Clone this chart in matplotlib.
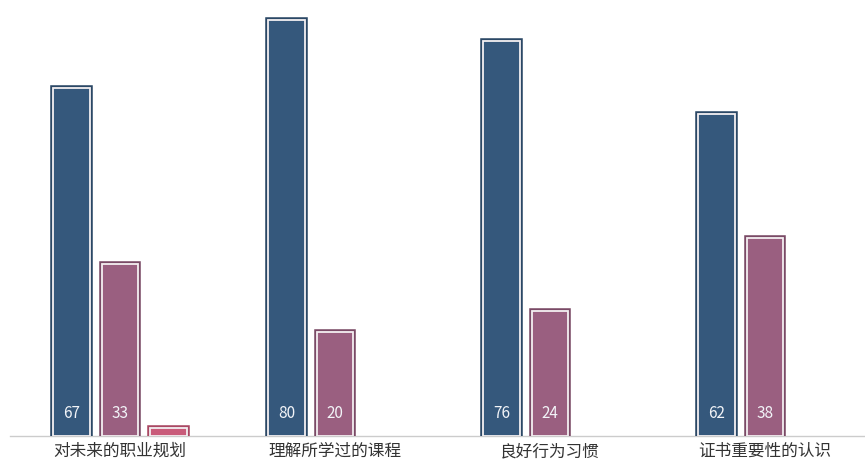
import matplotlib.pyplot as plt
import matplotlib.patheffects as pe
import numpy as np

plt.rcParams['font.family'] = ['Noto Sans CJK SC', 'DejaVu Sans']

categories = ["对未来的职业规划", "理解所学过的课程", "良好行为习惯", "证书重要性的认识"]
series_a = [67, 80, 76, 62]
series_b = [33, 20, 24, 38]
series_c = [1.5, 0, 0, 0]

fills = ["#35587c", "#9a5f80", "#c95b7a"]
edges = ["#2b4866", "#7a4a66", "#a94863"]

W, H = 865, 465
fig = plt.figure(figsize=(W / 100, H / 100), dpi=100)
# axes spans from x=10px to the right edge, baseline 29px above the bottom
ax = fig.add_axes([10 / W, 29 / H, 855 / W, 436 / H])

x = np.arange(len(categories))
width = 0.172
offset = 0.226

for i, (vals, fc, ec) in enumerate(zip([series_a, series_b, series_c], fills, edges)):
    pos = x + (i - 1) * offset
    for xp, v in zip(pos, vals):
        if v <= 0:
            continue
        b = ax.bar(xp, v, width, color=fc, edgecolor="#f4f0f2", linewidth=1.3, zorder=3)
        b[0].set_path_effects([pe.Stroke(linewidth=4, foreground=ec), pe.Normal()])
        if i < 2:
            ax.text(xp, 4.4, f"{v:g}", ha="center", va="center", color="#f2f4f8",
                    fontsize=11, zorder=4)

# unit = 215px horizontally, category centres at 120px + k*215px
ax.set_xlim(-110 / 215, 3 + 100 / 215)
ax.set_ylim(0, 436 / 5.2)

for s in ["top", "right", "left"]:
    ax.spines[s].set_visible(False)
ax.spines["bottom"].set_color("#cccccc")
ax.spines["bottom"].set_linewidth(1)
ax.set_yticks([])
ax.set_xticks(x)
ax.set_xticklabels(categories, fontsize=12, color="#333333")
ax.tick_params(axis="x", length=0, pad=5)

plt.savefig("out.png", dpi=100)
